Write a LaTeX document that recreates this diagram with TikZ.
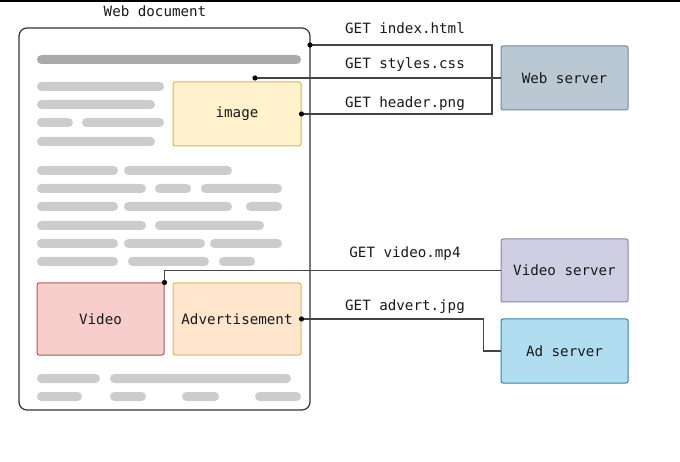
\documentclass[tikz,border=0pt]{standalone}
\usepackage{fontspec}
\setmainfont{DejaVu Sans Mono}
\definecolor{barA}{HTML}{AAAAAA}
\definecolor{barB}{HTML}{CCCCCC}
\definecolor{ln}{HTML}{444444}
\definecolor{imgF}{HTML}{FFF2CC}\definecolor{imgD}{HTML}{D6B656}
\definecolor{vidF}{HTML}{F8CECC}\definecolor{vidD}{HTML}{B85450}
\definecolor{adF}{HTML}{FFE6CC}\definecolor{adD}{HTML}{DDB560}
\definecolor{wsF}{HTML}{BAC8D3}\definecolor{wsD}{HTML}{6F879C}
\definecolor{vsF}{HTML}{D0CEE2}\definecolor{vsD}{HTML}{8C84A6}
\definecolor{asF}{HTML}{B1DDF0}\definecolor{asD}{HTML}{2A86AE}
\begin{document}
\begin{tikzpicture}[x=1pt,y=-1pt,
  txt/.style={font=\fontsize{14.2}{17}\selectfont, text=black!90},
  box/.style={txt, draw, line width=1pt, rounded corners=2pt, inner sep=0pt},
  conn/.style={draw=ln, line width=1.2pt},
  dot/.style={fill=black},
  bar/.style={fill=barB, rounded corners=4.5pt}]
\useasboundingbox (0,0) rectangle (680,462);
\fill[black] (0,0) rectangle (680,2);
% document
\node[txt] (title) at (155,11) {Web document};
\node[draw=black!80, line width=1.2pt, rounded corners=8pt, minimum width=291pt, minimum height=382pt] (doc) at (164.5,219) {};
\fill[barA, rounded corners=4.5pt] (37,55) rectangle (301,64);
% text bars
\foreach \a/\b/\y in {37/164/82, 37/155/100, 37/73/118, 82/164/118, 37/155/137,
  37/118/166, 124/232/166,
  37/146/184, 155/191/184, 201/282/184,
  37/118/202, 124/232/202, 246/282/202,
  37/146/221, 155/264/221,
  37/118/239, 124/205/239, 210/282/239,
  37/118/257, 128/209/257, 219/255/257,
  37/100/374, 110/291/374,
  37/82/392, 110/146/392, 182/219/392, 255/301/392}
  \fill[bar] (\a,\y) rectangle (\b,\y+9);
% content boxes
\node[box, fill=imgF, draw=imgD, minimum width=128pt, minimum height=64pt] (img) at (237,114) {image};
\node[box, fill=vidF, draw=vidD, minimum width=127pt, minimum height=72pt] (video) at (100.5,319) {Video};
\node[box, fill=adF, draw=adD, minimum width=128pt, minimum height=72pt] (ad) at (237,319) {Advertisement};
% servers
\node[box, fill=wsF, draw=wsD, minimum width=127pt, minimum height=64pt] (websrv) at (564.5,78) {Web server};
\node[box, fill=vsF, draw=vsD, minimum width=127pt, minimum height=63pt] (vidsrv) at (564.5,270.5) {Video server};
\node[box, fill=asF, draw=asD, minimum width=127pt, minimum height=64pt] (adsrv) at (564.5,351) {Ad server};
% connectors
\coordinate (p1) at (310,45);
\coordinate (p2) at (255,78);
\draw[conn] (p1) -- ++(182,0) |- (img.east);
\draw[conn] (p2) -- (websrv.west);
\draw[conn] (video.north east) |- (vidsrv.west);
\draw[conn] (ad.east) -- ++(182,0) |- (adsrv.west);
\foreach \p in {p1,p2,img.east,video.north east,ad.east}
  \fill[dot] (\p) circle (2.6pt);
% labels
\node[txt] (l1) at (405,28) {GET index.html};
\node[txt] (l2) at (405,65) {GET styles.css};
\node[txt] (l3) at (405,104) {GET header.png};
\node[txt] (l4) at (405,254) {GET video.mp4};
\node[txt] (l5) at (405,307) {GET advert.jpg};
\end{tikzpicture}
\end{document}
